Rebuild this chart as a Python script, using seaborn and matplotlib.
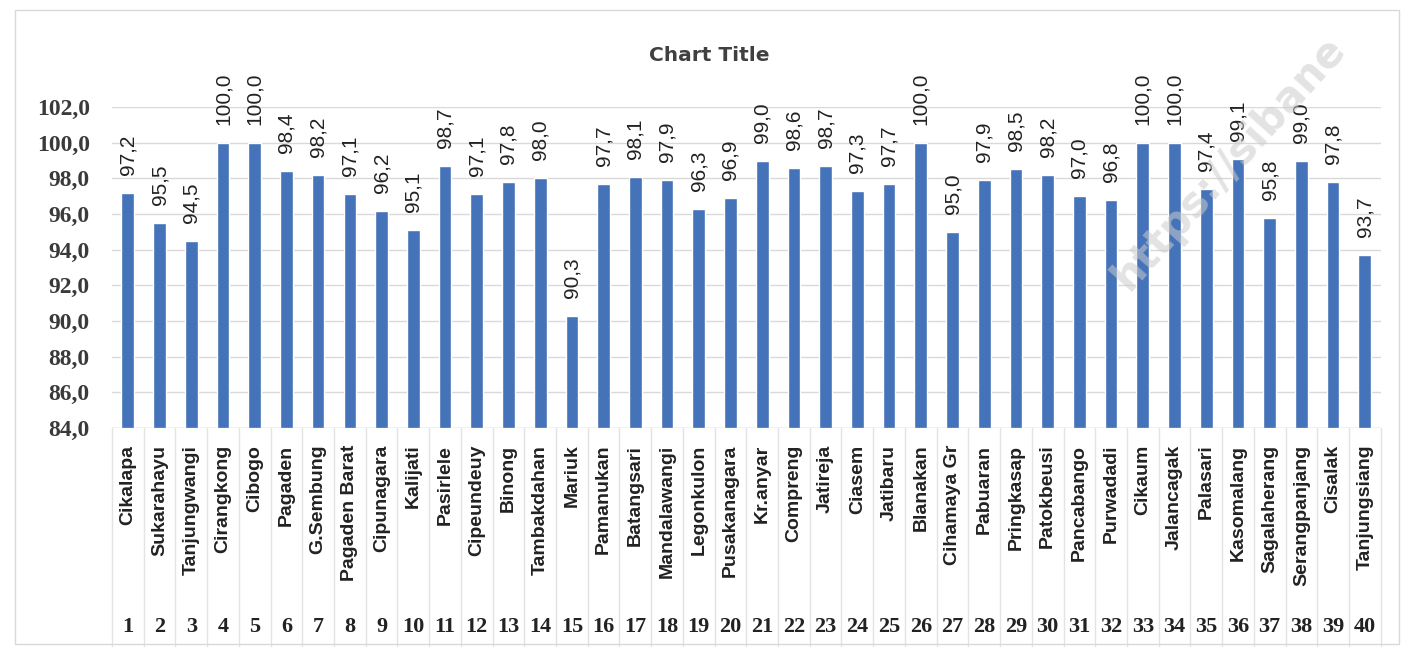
import numpy as np
import pandas as pd
import matplotlib
matplotlib.use('Agg')
import matplotlib.pyplot as plt
import matplotlib.transforms as mtransforms
import seaborn as sns

# data
nomor = list(range(1, 41))
desa = ['Cikalapa', 'Sukarahayu', 'Tanjungwangi', 'Cirangkong', 'Cibogo',
        'Pagaden', 'G.Sembung', 'Pagaden Barat', 'Cipunagara', 'Kalijati',
        'Pasirlele', 'Cipeundeuy', 'Binong', 'Tambakdahan', 'Mariuk',
        'Pamanukan', 'Batangsari', 'Mandalawangi', 'Legonkulon', 'Pusakanagara',
        'Kr.anyar', 'Compreng', 'Jatireja', 'Ciasem', 'Jatibaru',
        'Blanakan', 'Cihamaya Gr', 'Pabuaran', 'Pringkasap', 'Patokbeusi',
        'Pancabango', 'Purwadadi', 'Cikaum', 'Jalancagak', 'Palasari',
        'Kasomalang', 'Sagalaherang', 'Serangpanjang', 'Cisalak', 'Tanjungsiang']
nilai = [97.2, 95.5, 94.5, 100.0, 100.0, 98.4, 98.2, 97.1, 96.2, 95.1,
         98.7, 97.1, 97.8, 98.0, 90.3, 97.7, 98.1, 97.9, 96.3, 96.9,
         99.0, 98.6, 98.7, 97.3, 97.7, 100.0, 95.0, 97.9, 98.5, 98.2,
         97.0, 96.8, 100.0, 100.0, 97.4, 99.1, 95.8, 99.0, 97.8, 93.7]
y_ticks = [84, 86, 88, 90, 92, 94, 96, 98, 100, 102]

df = pd.DataFrame({'desa': desa, 'nilai': nilai})

sns.set_style('white')
plt.rcParams['font.family'] = ['Liberation Serif', 'DejaVu Sans']

fig = plt.figure(figsize=(14.05, 6.51), dpi=100)
ax = fig.add_axes([0.0797, 0.3425, 0.903, 0.493])

sns.barplot(data=df, x='desa', y='nilai', color='#4573b9', width=0.4,
            saturation=1, ax=ax)

ax.set_ylim(84, 102)
ax.set_yticks(y_ticks)
ax.set_yticklabels([f'{v:.1f}'.replace('.', ',') for v in y_ticks],
                   fontsize=17, fontweight='bold', color='#3a3a3a')
ax.yaxis.grid(True, color='#d9d9d9', linewidth=1)
ax.set_axisbelow(True)
ax.set_xlim(-0.5, len(desa) - 0.5)
ax.set_xlabel('')
ax.set_ylabel('')
ax.tick_params(axis='both', length=0)
ax.tick_params(axis='y', pad=16)
ax.tick_params(axis='x', pad=12)
ax.set_xticks(range(len(desa)))
ax.set_xticklabels(desa, rotation=90, va='top')
for lab in ax.get_xticklabels():
    lab.set_family(['Liberation Sans', 'DejaVu Sans'])
    lab.set_fontsize(14)
    lab.set_fontweight('bold')
    lab.set_color('#222222')
for s in ax.spines.values():
    s.set_visible(False)
ax.axhline(84, color='#d9d9d9', linewidth=1)

# value labels above the bars
for i, v in enumerate(nilai):
    ax.annotate(f'{v:.1f}'.replace('.', ','), (i, v), xytext=(0, 18),
                textcoords='offset pixels', rotation=90, ha='center',
                va='bottom', fontsize=15, color='#222222',
                family=['Liberation Sans', 'DejaVu Sans'],
                annotation_clip=False)

# second category level: numbers and separators
trans = mtransforms.blended_transform_factory(ax.transData, ax.transAxes)
for i, n in enumerate(nomor):
    ax.text(i, -0.62, str(n), transform=trans, ha='center', va='center',
            fontsize=16, fontweight='bold', color='#222222', clip_on=False)
for i in range(len(desa) + 1):
    ax.plot([i - 0.5, i - 0.5], [0, -0.68], transform=trans,
            color='#e3e3e3', linewidth=1, clip_on=False)

fig.text(0.505, 0.915, 'Chart Title', ha='center', va='center',
         fontsize=14.5, fontweight='bold', color='#404040',
         family='DejaVu Sans')

# watermark
fig.text(0.875, 0.75, 'https://sibane', rotation=48, ha='center',
         va='center', fontsize=30, fontweight='bold', color='#cccccc',
         alpha=0.55, family='DejaVu Sans')

# chart border
fig.patches.append(plt.Rectangle((0.011, 0.01), 0.985, 0.975,
                                 transform=fig.transFigure, fill=False,
                                 edgecolor='#d9d9d9', linewidth=1))

fig.savefig('out.png', dpi=100)
